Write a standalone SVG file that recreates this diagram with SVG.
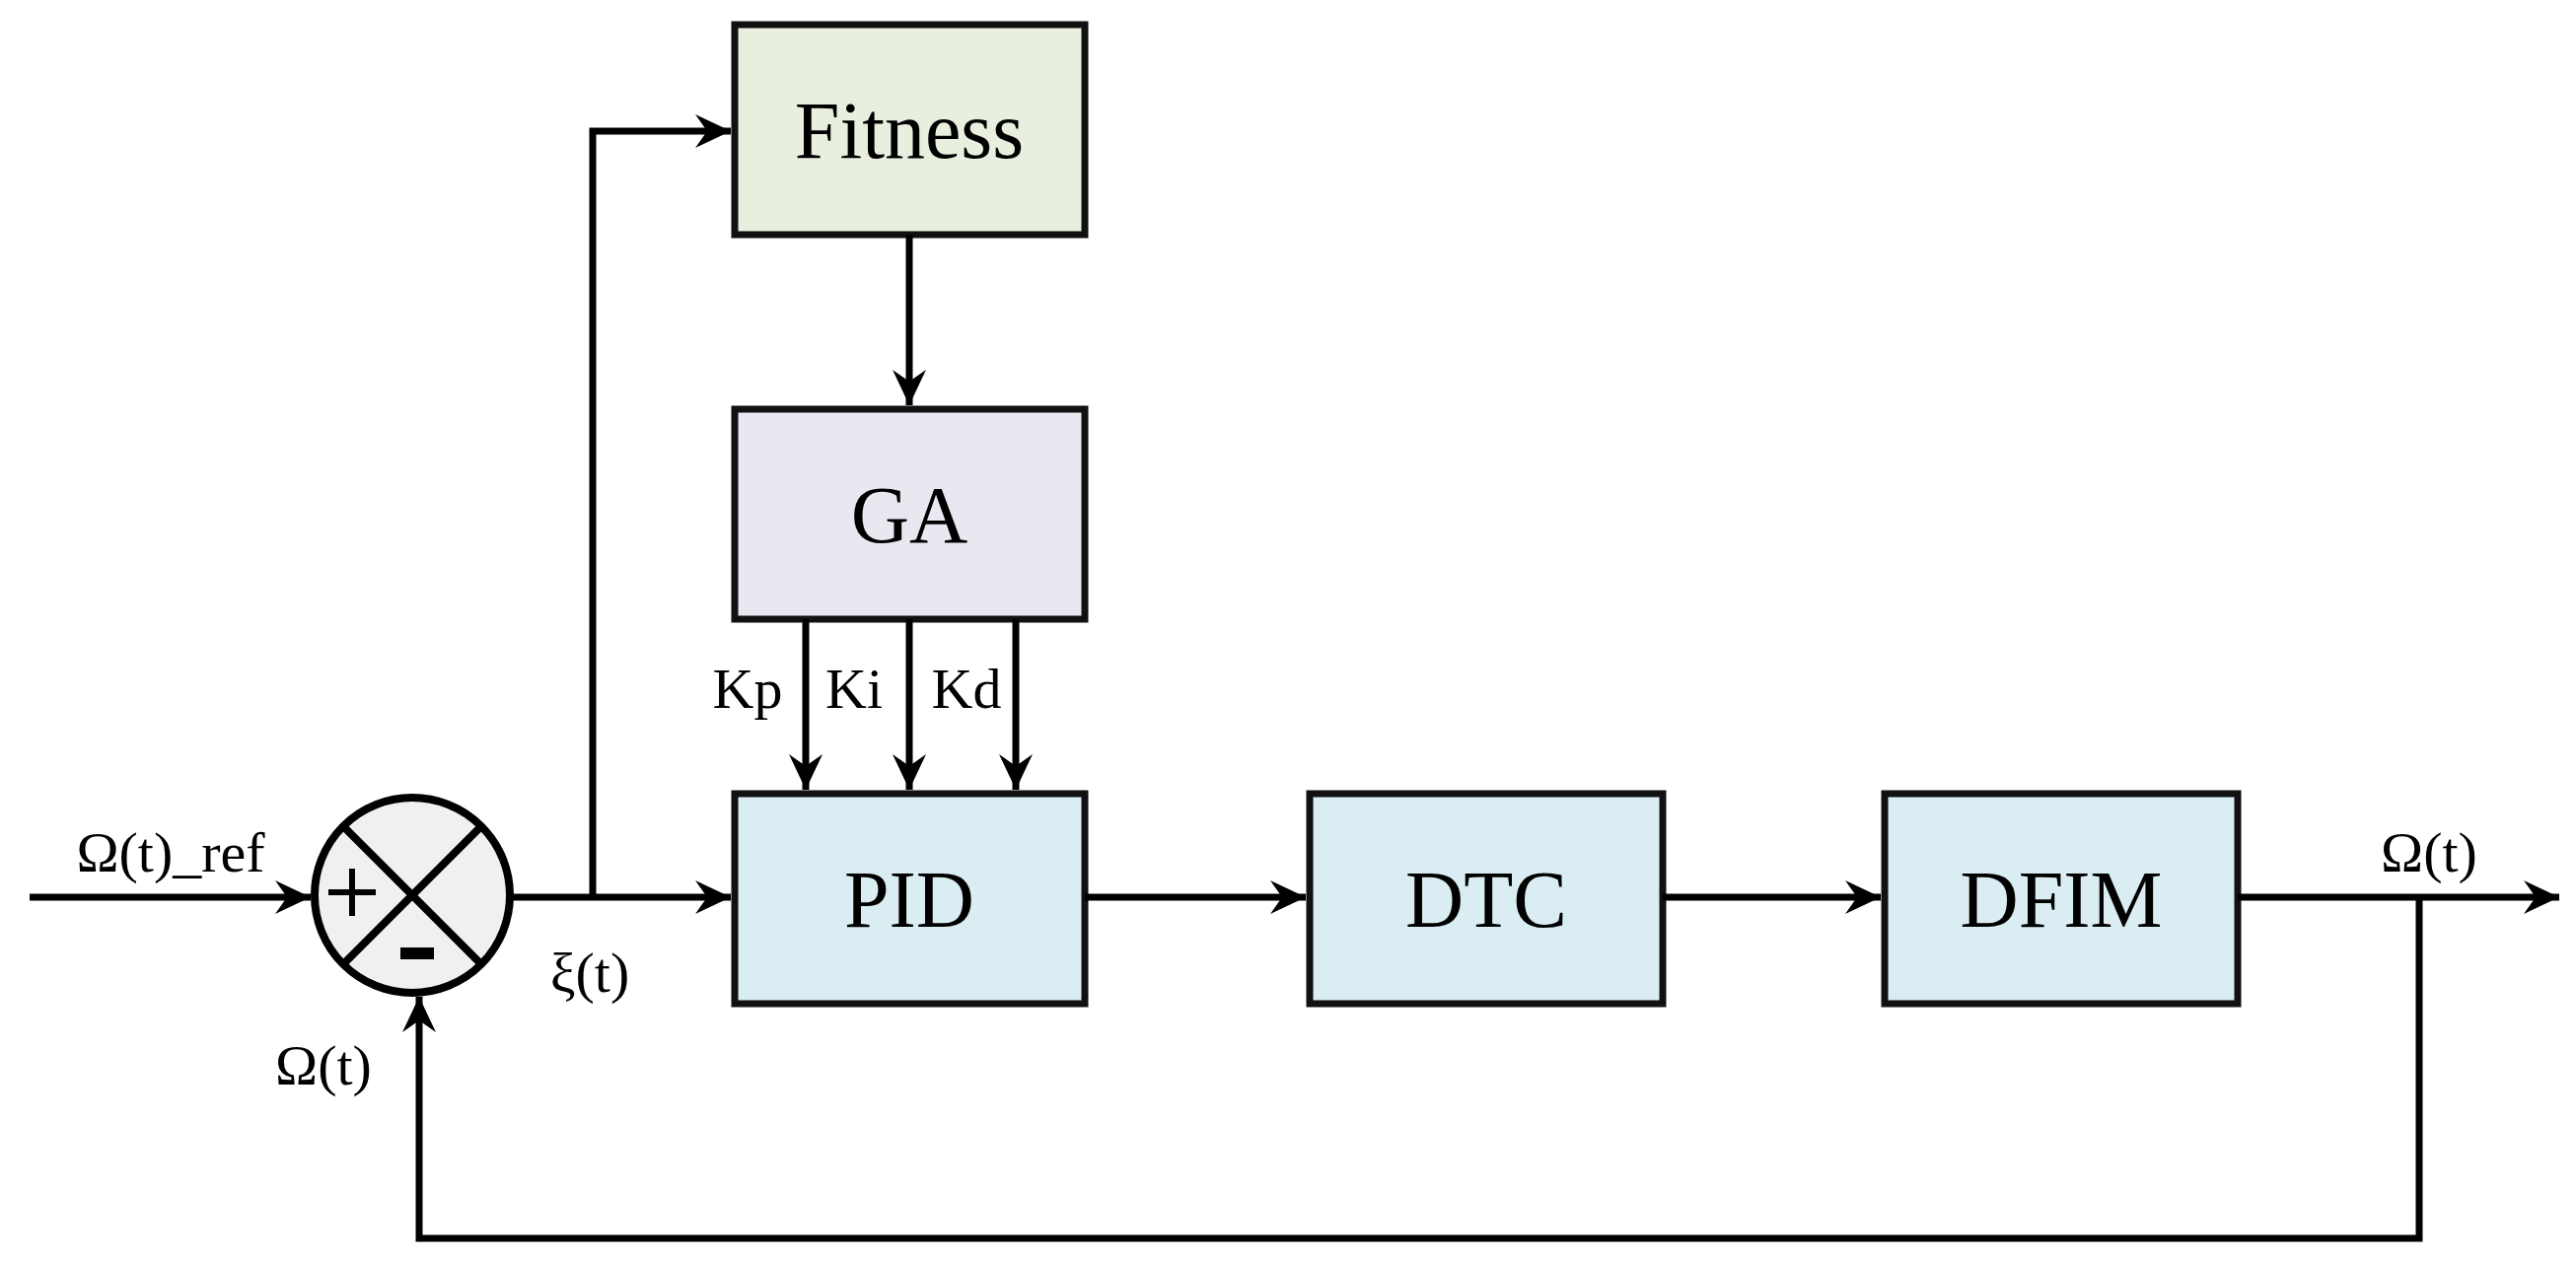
<svg xmlns="http://www.w3.org/2000/svg" width="2612" height="1280" viewBox="0 0 2612 1280">
<style>
.b{stroke:#111;stroke-width:7}
.t{font-family:"Liberation Serif",serif;fill:#000;text-anchor:middle}
.bt{font-size:82px}
.lt{font-size:58px}
.c{fill:none;stroke:#000;stroke-width:7}
</style>
<defs><marker id="a" viewBox="0 0 10 10" refX="9" refY="5" markerWidth="6" markerHeight="6" orient="auto" markerUnits="userSpaceOnUse" style="overflow:visible"><path d="M0,0 L10,5 L0,10 L3,5 Z" fill="#000" transform="scale(4) translate(-5,-5) translate(5,5)"/></marker>
<marker id="m" viewBox="-40 -20 42 40" refX="0" refY="0" markerWidth="42" markerHeight="40" orient="auto" markerUnits="userSpaceOnUse"><path d="M0,0 L-36,-17 L-24,0 L-36,17 Z" fill="#000"/></marker></defs>
<rect width="2612" height="1280" fill="#fff"/>
<g id="fitness"><rect class="b" x="745" y="25" width="355" height="213" fill="#e8efdf"/><text class="t bt" x="922" y="160">Fitness</text></g>
<g id="ga"><rect class="b" x="745" y="415" width="355" height="213" fill="#ebe7f0"/><text class="t bt" x="922" y="550">GA</text></g>
<g id="pid"><rect class="b" x="745" y="805" width="355" height="213" fill="#daedf2"/><text class="t bt" x="922" y="940">PID</text></g>
<g id="dtc"><rect class="b" x="1328" y="805" width="358" height="213" fill="#daedf2"/><text class="t bt" x="1507" y="940">DTC</text></g>
<g id="dfim"><rect class="b" x="1911" y="805" width="358" height="213" fill="#daedf2"/><text class="t bt" x="2090" y="940">DFIM</text></g>
<g id="sum"><circle cx="418" cy="908" r="99" fill="#f0f0f0" stroke="#000" stroke-width="8"/>
<path d="M348,838 L488,978 M488,838 L348,978" stroke="#000" stroke-width="8"/>
<path d="M333,905 h48 M357,881 v48" stroke="#000" stroke-width="6"/>
<rect x="406" y="961" width="34" height="12" fill="#000"/></g>
<g id="connectors">
<path class="c" d="M30,910 H315" marker-end="url(#m)"/>
<path class="c" d="M519,910 H741" marker-end="url(#m)"/>
<path class="c" d="M601,910 V133 H741" marker-end="url(#m)"/>
<path class="c" d="M922,238 V411" marker-end="url(#m)"/>
<path class="c" d="M817,628 V801" marker-end="url(#m)"/>
<path class="c" d="M922,628 V801" marker-end="url(#m)"/>
<path class="c" d="M1030,628 V801" marker-end="url(#m)"/>
<path class="c" d="M1100,910 H1324" marker-end="url(#m)"/>
<path class="c" d="M1686,910 H1907" marker-end="url(#m)"/>
<path class="c" d="M2269,910 H2595" marker-end="url(#m)"/>
<path class="c" d="M2453,910 V1256 H425 V1011" marker-end="url(#m)"/>
</g>
<g id="labels">
<text class="t lt" x="758" y="718">Kp</text>
<text class="t lt" x="866" y="718">Ki</text>
<text class="t lt" x="980" y="718">Kd</text>
<text class="t lt" x="173" y="884">Ω(t)_ref</text>
<text class="t lt" x="2463" y="884">Ω(t)</text>
<text class="t lt" x="328" y="1100">Ω(t)</text>
<text class="t lt" x="598" y="1006">ξ(t)</text>
</g>
</svg>
